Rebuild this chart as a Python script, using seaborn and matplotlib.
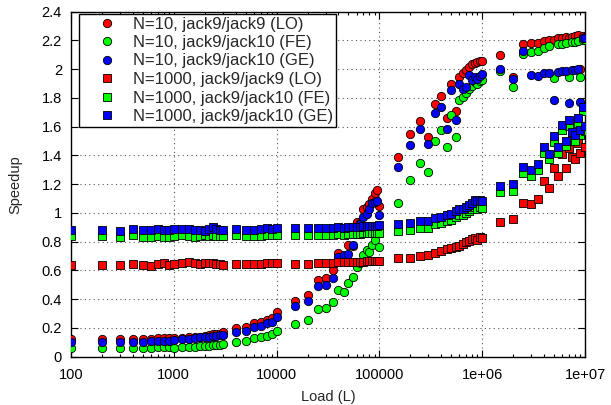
import numpy as np
import pandas as pd
import matplotlib
matplotlib.use("Agg")
import matplotlib.pyplot as plt
import seaborn as sns
from matplotlib.ticker import FixedLocator, FixedFormatter, LogLocator, NullFormatter

# ---- data ----
load = ([100, 200, 300, 400, 500, 600, 700, 800, 900]
        + [1000, 1200, 1400, 1600, 1800, 2000, 2200, 2400, 2600, 2800, 3000,
           4000, 5000, 6000, 7000, 8000, 9000]
        + [10000, 15000, 20000, 25000, 30000, 35000, 40000, 45000, 50000,
           55000, 60000, 65000, 70000, 75000, 80000, 85000, 90000, 95000]
        + [100000, 150000, 200000, 250000, 300000, 350000, 400000, 450000, 500000,
           550000, 600000, 650000, 700000, 750000, 800000, 850000, 900000, 950000]
        + [1e6, 1.5e6, 2e6, 2.5e6, 3e6, 3.5e6, 4e6, 4.5e6, 5e6, 5.5e6, 6e6,
           6.5e6, 7e6, 7.5e6, 8e6, 8.5e6, 9e6, 9.5e6, 1e7])

lo_10 = ([0.12, 0.12, 0.12, 0.125, 0.125, 0.125, 0.13, 0.13, 0.13]
         + [0.127, 0.13, 0.135, 0.14, 0.14, 0.145, 0.151, 0.155, 0.156, 0.16, 0.17,
            0.197, 0.204, 0.237, 0.244, 0.255, 0.267]
         + [0.31, 0.39, 0.43, 0.535, 0.55, 0.60, 0.72, 0.69, 0.78,
            0.77, 0.94, 0.93, 1.03, 1.04, 1.06, 1.10, 1.14, 1.16]
         + [1.05, 1.39, 1.547, 1.642, 1.53, 1.758, 1.816, 1.658, 1.897,
            1.711, 1.948, 1.976, 1.995, 2.013, 2.034, 2.045, 2.05, 2.055]
         + [2.06, 2.10, 1.948, 2.173, 2.18, 2.18, 2.198, 2.20, 2.205, 2.215, 2.215,
            2.226, 2.22, 2.226, 2.23, 2.235, 2.0, 2.23, 2.225])

fe_10 = ([0.058, 0.058, 0.058, 0.06, 0.062, 0.064, 0.066, 0.068, 0.07]
         + [0.063, 0.066, 0.07, 0.07, 0.074, 0.076, 0.076, 0.08, 0.081, 0.084, 0.086,
            0.104, 0.111, 0.128, 0.135, 0.144, 0.156]
         + [0.177, 0.227, 0.255, 0.33, 0.337, 0.383, 0.462, 0.452, 0.51,
            0.557, 0.622, 0.65, 0.707, 0.74, 0.73, 0.78, 0.81, 0.858]
         + [0.765, 1.071, 1.229, 1.345, 1.287, 1.503, 1.577, 1.461, 1.681,
            1.53, 1.786, 1.809, 1.832, 1.86, 1.883, 1.913, 1.90, 1.92]
         + [1.925, 1.99, 1.878, 2.106, 2.122, 2.125, 2.145, 2.161, 1.936, 2.173, 2.175,
            2.184, 1.943, 2.186, 2.19, 2.195, 1.943, 2.2, 2.205])

ge_10 = ([0.10, 0.10, 0.10, 0.105, 0.105, 0.107, 0.11, 0.11, 0.11]
         + [0.116, 0.123, 0.123, 0.128, 0.135, 0.14, 0.14, 0.144, 0.146, 0.148, 0.151,
            0.174, 0.181, 0.209, 0.214, 0.232, 0.244]
         + [0.274, 0.353, 0.39, 0.492, 0.499, 0.545, 0.696, 0.707, 0.714,
            0.78, 0.90, 0.92, 0.974, 0.99, 1.03, 1.067, 1.078, 1.08]
         + [0.986, 1.322, 1.473, 1.584, 1.478, 1.697, 1.739, 1.582, 1.855,
            1.647, 1.895, 1.86, 1.874, 1.96, 1.925, 1.948, 1.93, 1.95]
         + [1.97, 2.0, 1.932, 2.129, 1.96, 1.95, 1.971, 1.976, 1.786, 1.983, 1.985,
            1.99, 1.767, 1.995, 1.995, 2.0, 1.774, 2.22, 2.22])

lo_1000 = ([0.64, 0.64, 0.635, 0.645, 0.64, 0.63, 0.645, 0.65, 0.64]
           + [0.648, 0.655, 0.66, 0.65, 0.648, 0.65, 0.65, 0.652, 0.648, 0.645, 0.635,
              0.648, 0.643, 0.643, 0.643, 0.65, 0.65]
           + [0.65, 0.645, 0.645, 0.65, 0.655, 0.655, 0.656, 0.656, 0.658,
              0.66, 0.66, 0.66, 0.662, 0.664, 0.664, 0.665, 0.666, 0.668]
           + [0.665, 0.684, 0.69, 0.70, 0.705, 0.72, 0.733, 0.747, 0.758,
              0.765, 0.772, 0.784, 0.796, 0.807, 0.819, 0.824, 0.815, 0.83]
           + [0.825, 0.939, 0.958, 1.071, 1.062, 1.10, 1.224, 1.176, 1.315, 1.257, 1.408,
              1.31, 1.45, 1.387, 1.375, 1.489, 1.419, 1.565, 1.461])

fe_1000 = ([0.84, 0.84, 0.835, 0.845, 0.835, 0.835, 0.84, 0.835, 0.835]
           + [0.84, 0.845, 0.84, 0.835, 0.84, 0.845, 0.84, 0.845, 0.84, 0.84, 0.84,
              0.845, 0.84, 0.84, 0.84, 0.85, 0.85]
           + [0.85, 0.847, 0.847, 0.848, 0.85, 0.85, 0.852, 0.85, 0.855,
              0.855, 0.856, 0.857, 0.858, 0.858, 0.86, 0.86, 0.862, 0.862]
           + [0.862, 0.874, 0.881, 0.897, 0.897, 0.921, 0.928, 0.944, 0.95,
              0.974, 0.986, 0.986, 1.002, 1.016, 1.025, 1.043, 1.03, 1.04]
           + [1.035, 1.143, 1.155, 1.276, 1.257, 1.299, 1.419, 1.373, 1.496, 1.419, 1.577,
              1.466, 1.605, 1.53, 1.50, 1.624, 1.54, 1.71, 1.57])

ge_1000 = ([0.88, 0.88, 0.875, 0.885, 0.88, 0.88, 0.885, 0.88, 0.88]
           + [0.885, 0.885, 0.885, 0.88, 0.88, 0.875, 0.89, 0.9, 0.885, 0.88, 0.88,
              0.885, 0.88, 0.88, 0.89, 0.895, 0.89]
           + [0.893, 0.893, 0.893, 0.895, 0.896, 0.898, 0.9, 0.898, 0.902,
              0.903, 0.905, 0.905, 0.907, 0.908, 0.91, 0.91, 0.912, 0.912]
           + [0.915, 0.921, 0.928, 0.944, 0.944, 0.967, 0.97, 0.985, 0.992,
              1.016, 1.03, 1.03, 1.043, 1.057, 1.067, 1.09, 1.08, 1.09]
           + [1.085, 1.188, 1.199, 1.322, 1.299, 1.341, 1.461, 1.41, 1.535, 1.461, 1.612,
              1.5, 1.647, 1.565, 1.542, 1.658, 1.577, 1.739, 1.605])

labels = ["N=10, jack9/jack9 (LO)", "N=10, jack9/jack10 (FE)", "N=10, jack9/jack10 (GE)",
          "N=1000, jack9/jack9 (LO)", "N=1000, jack9/jack10 (FE)", "N=1000, jack9/jack10 (GE)"]
series = [lo_10, fe_10, ge_10, lo_1000, fe_1000, ge_1000]
colors = ["#ff0000", "#00ff00", "#0000ff", "#ff0000", "#00ff00", "#0000ff"]
markers = ["o", "o", "o", "s", "s", "s"]

xtick_vals = [100, 1000, 10000, 100000, 1e6, 1e7]
xtick_labels = ["100", "1000", "10000", "100000", "1e+06", "1e+07"]
ytick_vals = [0, 0.2, 0.4, 0.6, 0.8, 1.0, 1.2, 1.4, 1.6, 1.8, 2.0, 2.2, 2.4]
ytick_labels = ["0", "0.2", "0.4", "0.6", "0.8", "1", "1.2", "1.4", "1.6", "1.8", "2", "2.2", "2.4"]

# ---- plot ----
sns.set_style("ticks")
plt.rcParams['font.family'] = ['Liberation Sans', 'DejaVu Sans']

fig = plt.figure(figsize=(6.11, 4.05), dpi=100)
ax = fig.add_axes([71/611, 1 - 356.7/405, (585 - 71)/611, (356.7 - 11.7)/405])

for vals, lab, col, mk in zip(series, labels, colors, markers):
    df = pd.DataFrame({"Load": load, "Speedup": vals})
    sns.scatterplot(data=df, x="Load", y="Speedup", ax=ax, color=col, marker=mk,
                    s=36 if mk == "o" else 32, edgecolor="black", linewidth=0.6,
                    label=lab, zorder=3, legend=False)

ax.set_xscale("log")
ax.set_xlim(100, 1e7)
ax.set_ylim(0, 2.4)
ax.xaxis.set_major_locator(FixedLocator(xtick_vals))
ax.xaxis.set_major_formatter(FixedFormatter(xtick_labels))
ax.xaxis.set_minor_locator(LogLocator(base=10, subs=np.arange(2, 10)))
ax.xaxis.set_minor_formatter(NullFormatter())
ax.yaxis.set_major_locator(FixedLocator(ytick_vals))
ax.yaxis.set_major_formatter(FixedFormatter(ytick_labels))

ax.tick_params(which="both", direction="in", top=True, right=True, colors="black",
               labelsize=10.5, width=0.8)
ax.tick_params(which="major", length=5)
ax.tick_params(which="minor", length=2.5)
ax.tick_params(axis="x", pad=8)
ax.tick_params(axis="y", pad=6.5)

ax.grid(True, which="major", color="#555555", linestyle=(0, (1, 3)), linewidth=0.8)
ax.set_axisbelow(True)
for sp in ax.spines.values():
    sp.set_visible(True)
    sp.set_color("black")
    sp.set_linewidth(1.0)

ax.set_xlabel("Load (L)", fontsize=10.5, labelpad=6)
ax.set_ylabel("Speedup", fontsize=10.5, labelpad=14)

handles = []
for lab, col, mk in zip(labels, colors, markers):
    h = plt.Line2D([], [], linestyle="none", marker=mk, markersize=6.0 if mk == "o" else 5.6,
                   markerfacecolor=col, markeredgecolor="black", markeredgewidth=0.6, label=lab)
    handles.append(h)
leg = ax.legend(handles=handles, loc="upper left", bbox_to_anchor=(79/611, 1 - 14/405),
                bbox_transform=fig.transFigure, borderaxespad=0, fontsize=12,
                frameon=True, fancybox=False, framealpha=1, edgecolor="black",
                borderpad=0.15, handlelength=3.06, handletextpad=0.03, labelspacing=0.21)
leg.get_frame().set_linewidth(1.0)
leg.set_zorder(5)

fig.savefig("out.png", dpi=100)
